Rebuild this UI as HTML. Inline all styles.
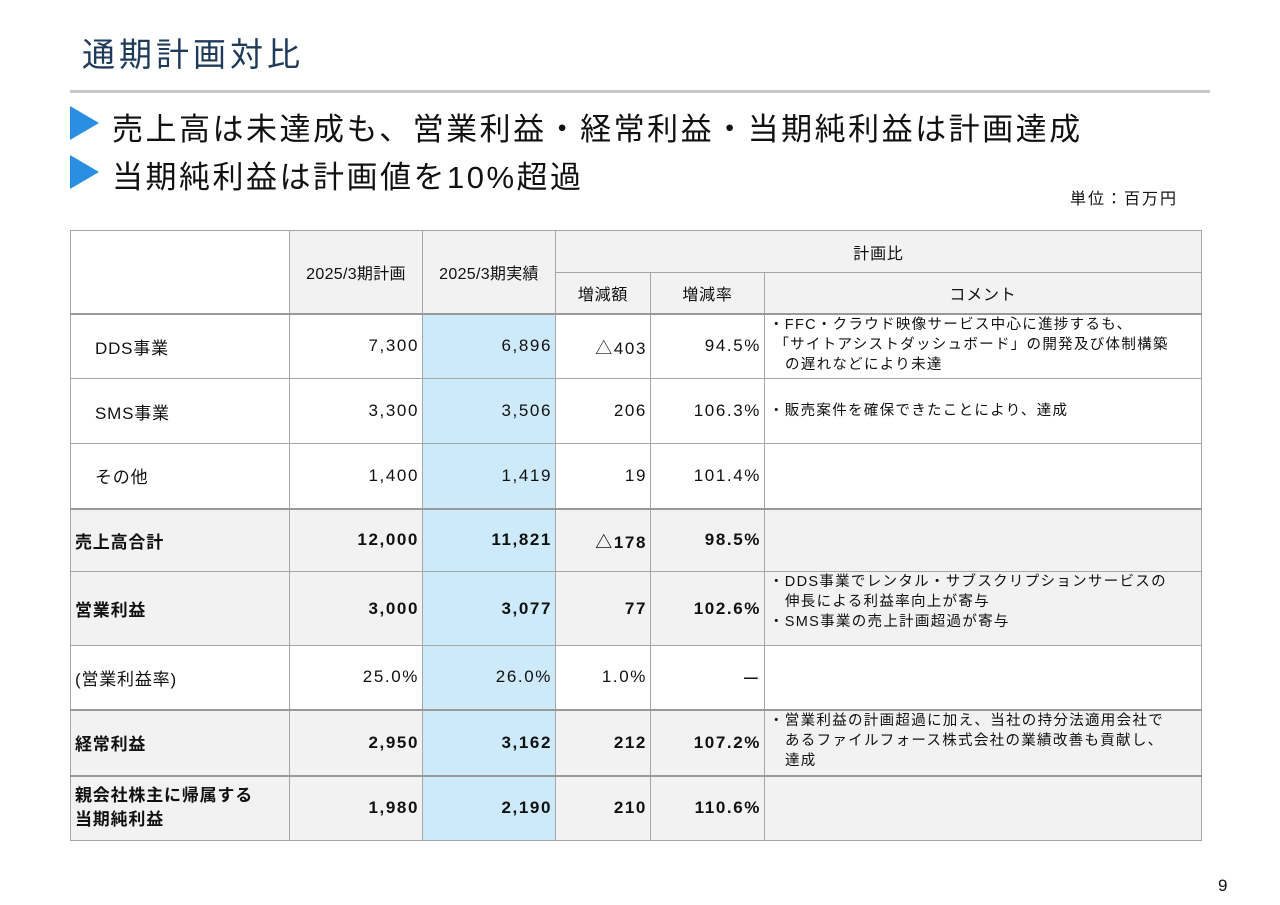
<!DOCTYPE html>
<html><head><meta charset="utf-8"><style>
body{margin:0;width:1280px;height:905px;background:#fff;font-family:"Liberation Sans","Noto Sans CJK JP",sans-serif;position:relative;overflow:hidden;color:#111}
.abs{position:absolute}
table{position:absolute;left:70px;top:230px;border-collapse:collapse;table-layout:fixed;width:1131px}
td{border:1.5px solid #a6a6a6;font-size:17px;padding:0 4px;white-space:nowrap;letter-spacing:0.8px}
.h{background:#f2f2f2;text-align:center}
.n{text-align:right;letter-spacing:1.6px;padding-right:3px}
.b td{font-weight:bold;background:#f2f2f2}
.b td.hl,td.hl{background:#cdeafb}
.c{font-size:14.5px;line-height:20px;white-space:normal;font-weight:normal!important;vertical-align:top;padding-top:0;letter-spacing:1.3px}
.lbl{padding-left:24px}
tr.thick td{border-top:2.5px solid #999}
</style></head><body>
<div class="abs" style="left:82px;top:28px;font-size:33px;color:#1f3b5a;letter-spacing:4px">通期計画対比</div>
<div class="abs" style="left:70px;top:90px;width:1140px;height:3px;background:#c8c8c8"></div>
<div class="abs" style="left:70px;top:106px;width:0;height:0;border-top:17px solid transparent;border-bottom:17px solid transparent;border-left:29px solid #2a8ee3"></div>
<div class="abs" style="left:112px;top:104px;font-size:31px;letter-spacing:2.5px">売上高は未達成も、営業利益・経常利益・当期純利益は計画達成</div>
<div class="abs" style="left:70px;top:155px;width:0;height:0;border-top:17px solid transparent;border-bottom:17px solid transparent;border-left:29px solid #2a8ee3"></div>
<div class="abs" style="left:112px;top:152px;font-size:31px;letter-spacing:2.5px">当期純利益は計画値を10%超過</div>
<div class="abs" style="left:1070px;top:185px;font-size:16px;letter-spacing:2px">単位：百万円</div>
<table>
<colgroup><col style="width:219px"><col style="width:133px"><col style="width:133px"><col style="width:95px"><col style="width:114px"><col style="width:437px"></colgroup>
<tr style="height:42px"><td class="h" rowspan="2" style="background:#fff"></td><td class="h" rowspan="2" style="font-size:16px;letter-spacing:0.3px;padding:0">2025/3期計画</td><td class="h" rowspan="2" style="font-size:16px;letter-spacing:0.3px;padding:0">2025/3期実績</td><td class="h" colspan="3" style="font-size:16px">計画比</td></tr>
<tr style="height:41px"><td class="h" style="font-size:16px">増減額</td><td class="h" style="font-size:16px">増減率</td><td class="h" style="font-size:16px">コメント</td></tr>
<tr class="thick" style="height:65px"><td class="lbl">DDS事業</td><td class="n">7,300</td><td class="n hl">6,896</td><td class="n">△403</td><td class="n">94.5%</td><td class="c">・FFC・クラウド映像サービス中心に進捗するも、<br>&nbsp;「サイトアシストダッシュボード」の開発及び体制構築<br>&nbsp;&nbsp;&nbsp;の遅れなどにより未達</td></tr>
<tr style="height:65px"><td class="lbl">SMS事業</td><td class="n">3,300</td><td class="n hl">3,506</td><td class="n">206</td><td class="n">106.3%</td><td class="c" style="vertical-align:middle;padding-top:0">・販売案件を確保できたことにより、達成</td></tr>
<tr style="height:65px"><td class="lbl">その他</td><td class="n">1,400</td><td class="n hl">1,419</td><td class="n">19</td><td class="n">101.4%</td><td></td></tr>
<tr class="b thick" style="height:63px"><td>売上高合計</td><td class="n">12,000</td><td class="n hl">11,821</td><td class="n">△178</td><td class="n">98.5%</td><td></td></tr>
<tr class="b" style="height:74px"><td>営業利益</td><td class="n">3,000</td><td class="n hl">3,077</td><td class="n">77</td><td class="n">102.6%</td><td class="c">・DDS事業でレンタル・サブスクリプションサービスの<br>&nbsp;&nbsp;&nbsp;伸長による利益率向上が寄与<br>・SMS事業の売上計画超過が寄与</td></tr>
<tr style="height:64px"><td style="padding-left:4px">(営業利益率)</td><td class="n">25.0%</td><td class="n hl">26.0%</td><td class="n">1.0%</td><td class="n">ー</td><td></td></tr>
<tr class="b thick" style="height:66px"><td>経常利益</td><td class="n">2,950</td><td class="n hl">3,162</td><td class="n">212</td><td class="n">107.2%</td><td class="c">・営業利益の計画超過に加え、当社の持分法適用会社で<br>&nbsp;&nbsp;&nbsp;あるファイルフォース株式会社の業績改善も貢献し、<br>&nbsp;&nbsp;&nbsp;達成</td></tr>
<tr class="b thick" style="height:65px"><td style="white-space:normal;line-height:24px">親会社株主に帰属する<br>当期純利益</td><td class="n">1,980</td><td class="n hl">2,190</td><td class="n">210</td><td class="n">110.6%</td><td></td></tr>
</table>
<div class="abs" style="left:1218px;top:876px;font-size:17px">9</div>
</body></html>
